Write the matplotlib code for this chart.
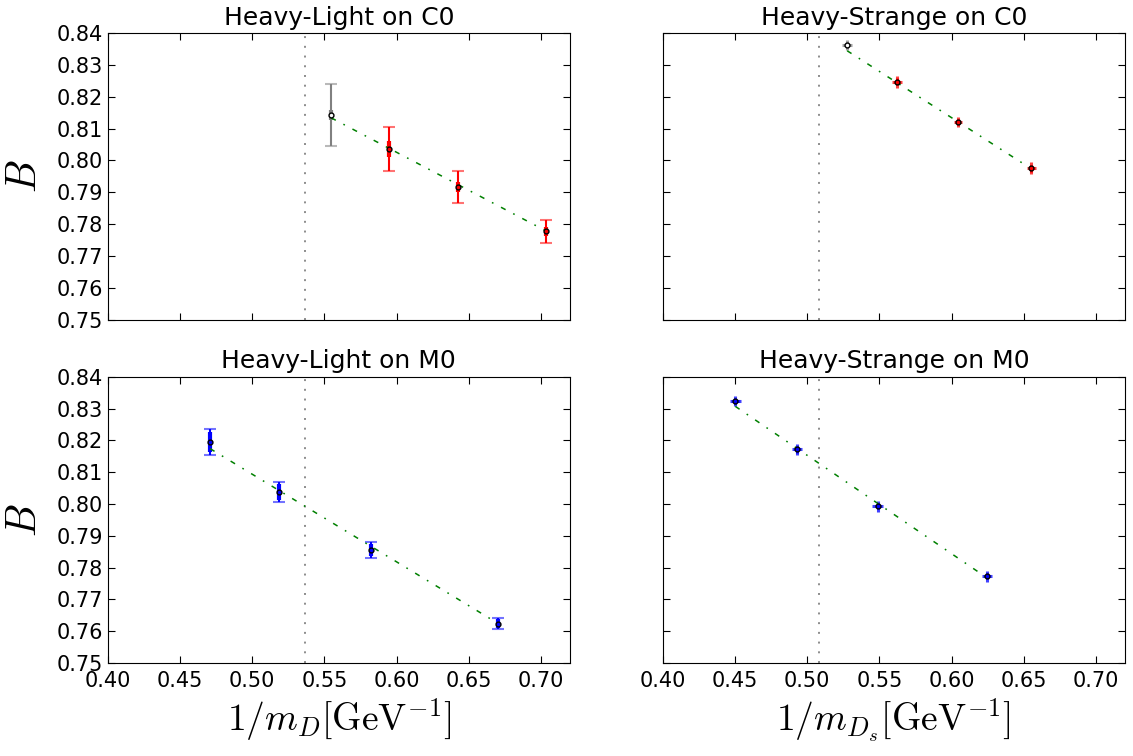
import matplotlib
matplotlib.use("Agg")
import matplotlib.pyplot as plt
import numpy as np

# Heavy-Light on C0 (first point is the grey one, left out of the fit)
hl_c0_x = [0.5547, 0.5944, 0.6426, 0.7031]
hl_c0_y = [0.8142, 0.8036, 0.7916, 0.7777]
hl_c0_yerr = [0.0097, 0.0070, 0.0051, 0.0036]
hl_c0_yerr_stat = [0.0016, 0.0024, 0.0016, 0.0013]
hl_c0_fit_x = [0.5547, 0.7031]
hl_c0_fit_y = [0.8134, 0.7779]

# Heavy-Strange on C0
hs_c0_x = [0.5277, 0.5623, 0.6043, 0.6551]
hs_c0_y = [0.8363, 0.8247, 0.8120, 0.7976]
hs_c0_xerr = [0.0035, 0.0035, 0.0030, 0.0030]
hs_c0_yerr = [0.0016, 0.0018, 0.0016, 0.0018]
hs_c0_fit_x = [0.5277, 0.6551]
hs_c0_fit_y = [0.8345, 0.7974]

# Heavy-Light on M0
hl_m0_x = [0.4709, 0.5186, 0.5819, 0.6703]
hl_m0_y = [0.8195, 0.8038, 0.7855, 0.7624]
hl_m0_yerr = [0.0040, 0.0032, 0.0024, 0.0018]
hl_m0_yerr_stat = [0.0030, 0.0024, 0.0018, 0.0014]
hl_m0_fit_x = [0.4709, 0.6703]
hl_m0_fit_y = [0.8174, 0.7624]

# Heavy-Strange on M0
hs_m0_x = [0.4503, 0.4931, 0.5489, 0.6244]
hs_m0_y = [0.8324, 0.8172, 0.7993, 0.7773]
hs_m0_xerr = [0.0037, 0.0037, 0.0037, 0.0037]
hs_m0_yerr = [0.0017, 0.0017, 0.0017, 0.0017]
hs_m0_fit_x = [0.4503, 0.6244]
hs_m0_fit_y = [0.8307, 0.7768]

# physical 1/m_D and 1/m_Ds
phys_inv_mD = 0.5365
phys_inv_mDs = 0.5085

plt.rcParams['mathtext.fontset'] = 'cm'
plt.rcParams['xtick.direction'] = 'in'
plt.rcParams['ytick.direction'] = 'in'
plt.rcParams['xtick.top'] = True
plt.rcParams['ytick.right'] = True
plt.rcParams['xtick.major.size'] = 5
plt.rcParams['ytick.major.size'] = 5
plt.rcParams['xtick.major.pad'] = 6
plt.rcParams['xtick.labelsize'] = 15
plt.rcParams['ytick.labelsize'] = 15

fit_dashes = (3.4, 5.6, 1.1, 5.6)


def draw_light(ax, x, y, yerr, yerr_stat, color, fit_x, fit_y, phys, grey_first):
    ax.axvline(phys, color='0.55', linestyle=':', lw=1.4, dashes=(1, 4))
    ax.plot(fit_x, fit_y, color='g', lw=1.1, dashes=fit_dashes, zorder=3)
    for i in range(len(x)):
        c = color
        mfc = color
        if grey_first and i == 0:
            c = '0.5'
            mfc = 'w'
        line, caps, bars = ax.errorbar(x[i], y[i], yerr=yerr[i], fmt='none', ecolor=c,
                                       elinewidth=1.5, capsize=4.5, capthick=1.5, zorder=2)
        for cap in caps:
            cap.set_alpha(0.55)
        ax.errorbar(x[i], y[i], yerr=yerr_stat[i], fmt='none', ecolor=c,
                    elinewidth=3, capsize=0, zorder=2)
        ax.plot(x[i], y[i], 'o', ms=3.5, mfc=mfc, mec='k', mew=1.0, zorder=4)


def draw_strange(ax, x, y, xerr, yerr, color, fit_x, fit_y, phys, grey_first):
    ax.axvline(phys, color='0.55', linestyle=':', lw=1.4, dashes=(1, 4))
    ax.plot(fit_x, fit_y, color='g', lw=1.1, dashes=fit_dashes, zorder=3)
    for i in range(len(x)):
        c = color
        mfc = color
        if grey_first and i == 0:
            c = '0.5'
            mfc = 'w'
        ax.errorbar(x[i], y[i], xerr=xerr[i], yerr=yerr[i], fmt='none', ecolor=c,
                    elinewidth=2.2, capsize=0, alpha=0.75, zorder=2)
        ax.errorbar(x[i], y[i], xerr=xerr[i] * 0.6, yerr=yerr[i] * 0.6, fmt='none', ecolor=c,
                    elinewidth=2.2, capsize=0, zorder=2)
        ax.plot(x[i], y[i], 'o', ms=3.5, mfc=mfc, mec='k', mew=1.0, zorder=4)


def main():
    fig, axes = plt.subplots(2, 2, figsize=(11.33, 7.56), dpi=100, sharex=True, sharey=True)
    fig.subplots_adjust(left=0.095, right=0.993, top=0.956, bottom=0.123, wspace=0.2, hspace=0.2)

    draw_light(axes[0, 0], hl_c0_x, hl_c0_y, hl_c0_yerr, hl_c0_yerr_stat, 'r',
               hl_c0_fit_x, hl_c0_fit_y, phys_inv_mD, True)
    draw_strange(axes[0, 1], hs_c0_x, hs_c0_y, hs_c0_xerr, hs_c0_yerr, 'r',
                 hs_c0_fit_x, hs_c0_fit_y, phys_inv_mDs, True)
    draw_light(axes[1, 0], hl_m0_x, hl_m0_y, hl_m0_yerr, hl_m0_yerr_stat, 'b',
               hl_m0_fit_x, hl_m0_fit_y, phys_inv_mD, False)
    draw_strange(axes[1, 1], hs_m0_x, hs_m0_y, hs_m0_xerr, hs_m0_yerr, 'b',
                 hs_m0_fit_x, hs_m0_fit_y, phys_inv_mDs, False)

    axes[0, 0].set_title("Heavy-Light on C0", fontsize=18)
    axes[0, 1].set_title("Heavy-Strange on C0", fontsize=18)
    axes[1, 0].set_title("Heavy-Light on M0", fontsize=18)
    axes[1, 1].set_title("Heavy-Strange on M0", fontsize=18)

    axes[0, 0].set_ylabel(r"$B$", fontsize=30, labelpad=8)
    axes[1, 0].set_ylabel(r"$B$", fontsize=30, labelpad=8)
    axes[1, 0].set_xlabel(r"$1/m_D[\mathrm{GeV}^{-1}]$", fontsize=27)
    axes[1, 1].set_xlabel(r"$1/m_{D_s}[\mathrm{GeV}^{-1}]$", fontsize=27)

    ax = axes[0, 0]
    ax.set_xlim(0.40, 0.72)
    ax.set_ylim(0.75, 0.84)
    ax.set_xticks(np.arange(0.40, 0.701, 0.05))
    ax.set_yticks(np.arange(0.75, 0.8401, 0.01))
    ax.xaxis.set_major_formatter(matplotlib.ticker.FormatStrFormatter('%.2f'))
    ax.yaxis.set_major_formatter(matplotlib.ticker.FormatStrFormatter('%.2f'))

    fig.savefig("out.png", dpi=100)


if __name__ == '__main__':
    main()
